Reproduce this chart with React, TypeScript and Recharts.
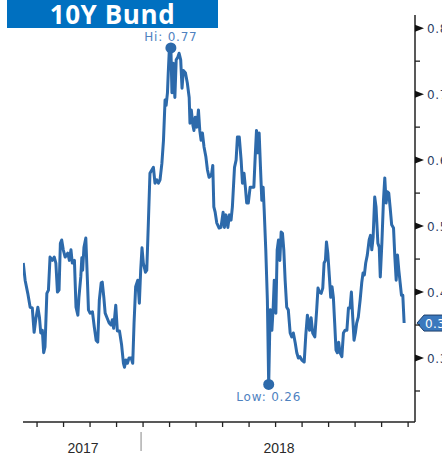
import React from 'react';
import { LineChart, Line, XAxis, YAxis, ReferenceDot, ReferenceLine } from 'recharts';

// time in months relative to Jan 2018 (0 = Jan 2018)
const months = [
  -4.52, -4.45, -4.35, -4.26, -4.18, -4.11, -4.05, -3.97, -3.91, -3.86,
  -3.80, -3.75, -3.70, -3.63, -3.57, -3.51, -3.42, -3.35, -3.29, -3.23,
  -3.17, -3.12, -3.07, -3.01, -2.94, -2.84, -2.78, -2.72, -2.67, -2.59,
  -2.53, -2.46, -2.42, -2.35, -2.31, -2.28, -2.23, -2.16, -2.10, -2.06,
  -2.00, -1.91, -1.84, -1.77, -1.71, -1.65, -1.58, -1.54, -1.48, -1.43,
  -1.36, -1.28, -1.21, -1.16, -1.11, -1.03, -0.97, -0.89, -0.81, -0.74,
  -0.70, -0.65, -0.59, -0.53, -0.45, -0.39, -0.34, -0.28, -0.20, -0.14,
  -0.09, -0.04, 0.01, 0.09, 0.14, 0.20, 0.26, 0.33, 0.39, 0.45,
  0.52, 0.58, 0.64, 0.71, 0.77, 0.83, 0.87, 0.92, 0.95, 0.99,
  1.05, 1.09, 1.14, 1.20, 1.25, 1.31, 1.36, 1.42, 1.47, 1.52,
  1.60, 1.67, 1.74, 1.77, 1.82, 1.88, 1.92, 1.97, 2.03, 2.09,
  2.14, 2.19, 2.24, 2.30, 2.37, 2.43, 2.49, 2.55, 2.59, 2.63,
  2.67, 2.72, 2.78, 2.87, 2.94, 3.02, 3.07, 3.13, 3.20, 3.26,
  3.32, 3.37, 3.45, 3.51, 3.56, 3.63, 3.70, 3.75, 3.81, 3.86,
  3.91, 3.97, 4.04, 4.10, 4.18, 4.23, 4.28, 4.33, 4.38, 4.43,
  4.48, 4.53, 4.57, 4.63, 4.69, 4.74, 4.78, 4.80, 4.86, 4.91,
  4.95, 5.01, 5.06, 5.11, 5.16, 5.21, 5.26, 5.31, 5.36, 5.42,
  5.48, 5.55, 5.61, 5.67, 5.74, 5.80, 5.86, 5.92, 5.99, 6.08,
  6.14, 6.20, 6.28, 6.34, 6.40, 6.48, 6.55, 6.60, 6.65, 6.72,
  6.78, 6.83, 6.88, 6.92, 6.97, 7.03, 7.08, 7.13, 7.18, 7.23,
  7.28, 7.33, 7.38, 7.43, 7.50, 7.56, 7.62, 7.69, 7.75, 7.81,
  7.86, 7.91, 7.96, 8.01, 8.06, 8.12, 8.19, 8.25, 8.30, 8.35,
  8.40, 8.46, 8.53, 8.58, 8.63, 8.68, 8.74, 8.79, 8.86, 8.91,
  8.95, 9.01, 9.07, 9.12, 9.17, 9.22, 9.27, 9.32, 9.38, 9.45,
  9.50, 9.55, 9.60, 9.65, 9.70, 9.75, 9.80, 9.85,
];

const bundYield = [
  0.444, 0.418, 0.398, 0.377, 0.376, 0.339, 0.358, 0.377, 0.362, 0.338,
  0.342, 0.308, 0.317, 0.398, 0.403, 0.453, 0.448, 0.453, 0.444, 0.400,
  0.403, 0.474, 0.479, 0.464, 0.453, 0.459, 0.448, 0.464, 0.444, 0.448,
  0.377, 0.365, 0.392, 0.423, 0.452, 0.433, 0.468, 0.482, 0.418, 0.373,
  0.368, 0.370, 0.347, 0.327, 0.324, 0.388, 0.414, 0.415, 0.392, 0.368,
  0.361, 0.353, 0.350, 0.358, 0.345, 0.380, 0.341, 0.341, 0.320, 0.292,
  0.286, 0.297, 0.292, 0.300, 0.300, 0.292, 0.353, 0.408, 0.418, 0.383,
  0.433, 0.467, 0.444, 0.430, 0.433, 0.505, 0.580, 0.585, 0.589, 0.565,
  0.570, 0.565, 0.570, 0.595, 0.630, 0.691, 0.683, 0.702, 0.732, 0.767,
  0.770, 0.702, 0.747, 0.695, 0.752, 0.756, 0.762, 0.752, 0.709, 0.736,
  0.732, 0.717, 0.695, 0.656, 0.676, 0.653, 0.645, 0.665, 0.650, 0.676,
  0.645, 0.630, 0.641, 0.620, 0.605, 0.585, 0.574, 0.576, 0.580, 0.592,
  0.529, 0.521, 0.505, 0.497, 0.498, 0.521, 0.498, 0.517, 0.498, 0.517,
  0.509, 0.529, 0.589, 0.600, 0.635, 0.635, 0.600, 0.565, 0.580, 0.559,
  0.535, 0.535, 0.559, 0.559, 0.559, 0.605, 0.645, 0.611, 0.641, 0.589,
  0.539, 0.559, 0.524, 0.464, 0.388, 0.260, 0.342, 0.373, 0.342, 0.377,
  0.418, 0.368, 0.464, 0.479, 0.448, 0.491, 0.489, 0.464, 0.418, 0.377,
  0.373, 0.338, 0.332, 0.338, 0.323, 0.308, 0.300, 0.302, 0.297, 0.294,
  0.335, 0.365, 0.342, 0.361, 0.338, 0.332, 0.373, 0.406, 0.400, 0.398,
  0.406, 0.444, 0.448, 0.476, 0.459, 0.423, 0.392, 0.408, 0.392, 0.353,
  0.312, 0.308, 0.324, 0.308, 0.302, 0.338, 0.342, 0.342, 0.376, 0.376,
  0.400, 0.362, 0.327, 0.338, 0.353, 0.362, 0.388, 0.414, 0.429, 0.426,
  0.444, 0.456, 0.479, 0.486, 0.464, 0.483, 0.544, 0.529, 0.474, 0.468,
  0.423, 0.474, 0.539, 0.573, 0.535, 0.552, 0.550, 0.529, 0.502, 0.497,
  0.453, 0.418, 0.456, 0.433, 0.414, 0.395, 0.395, 0.353,
];

const monthTicks = [-4, -3, -2, -1, 0, 1, 2, 3, 4, 5, 6, 7, 8, 9, 10];
const yearLabels = ['2017', '2018'];
const yearBoundary = 0;
const majorYTicks = [0.3, 0.4, 0.5, 0.6, 0.7, 0.8];
const minorYTicks = [0.25, 0.35, 0.45, 0.55, 0.65, 0.75];
const hiPoint = { t: 1.05, v: 0.77, label: 'Hi: 0.77' };
const lowPoint = { t: 4.74, v: 0.26, label: 'Low: 0.26' };
const xDomain: [number, number] = [-4.53, 10.26];
const yDomain: [number, number] = [0.203, 0.82];
const title = '10Y Bund';

const LINE = '#2d6aab';
const LABEL_FONT = '"DejaVu Sans", sans-serif';

const data = months.map((t, i) => ({ t, v: bundYield[i] }));
const lastPoint = data[data.length - 1];
const yearCenters = [(xDomain[0] + yearBoundary) / 2, (yearBoundary + xDomain[1]) / 2];

const XTick = (props: any) => {
  const { x, y, payload } = props;
  const v = payload.value;
  const yi = yearCenters.findIndex((c) => Math.abs(c - v) < 1e-9);
  if (yi >= 0) {
    return (
      <text x={x} y={y + 31} textAnchor="middle" fontSize={14} fontFamily='"Liberation Sans", Arial, sans-serif' fill="#2a2a2a">
        {yearLabels[yi]}
      </text>
    );
  }
  return (
    <g>
      <line x1={x} y1={y} x2={x} y2={y + 5} stroke="#222" strokeWidth={1.3} />
      {Math.abs(v - yearBoundary) < 1e-9 && (
        <line x1={x - 2} y1={y + 10} x2={x - 2} y2={y + 29} stroke="#9a9a9a" strokeWidth={1.2} />
      )}
    </g>
  );
};

const YTick = (props: any) => {
  const { x, y, payload } = props;
  const v = payload.value;
  const major = majorYTicks.some((m) => Math.abs(m - v) < 1e-9);
  if (!major) {
    return <line x1={x} y1={y} x2={x + 5} y2={y} stroke="#222" strokeWidth={1.3} />;
  }
  return (
    <g>
      <polygon points={`${x},${y - 3.5} ${x + 9},${y} ${x},${y + 3.5}`} fill="#111" />
      <text x={x + 12} y={y} dy={4.5} fontSize={12} letterSpacing={0.6} fontFamily={LABEL_FONT} fill="#2b4066">
        {v.toFixed(1)}
      </text>
    </g>
  );
};

const LastTag = (props: any) => {
  const { viewBox } = props;
  const x = viewBox.x + viewBox.width + 2;
  const y = viewBox.y;
  return (
    <g>
      <polygon
        points={`${x},${y} ${x + 7},${y - 8} ${x + 40},${y - 8} ${x + 40},${y + 8} ${x + 7},${y + 8}`}
        fill="#3a78bd"
        stroke="#1e3f6b"
        strokeWidth={1}
      />
      <text x={x + 8} y={y} dy={4.5} fontSize={12} letterSpacing={0.4} fontFamily={LABEL_FONT} fill="#fff">
        {lastPoint.v.toFixed(2)}
      </text>
    </g>
  );
};

export default function App() {
  return (
    <div style={{ position: 'absolute', left: 0, top: 0, width: 442, height: 459, background: '#fff', overflow: 'hidden' }}>
      <LineChart width={442} height={459} data={data} margin={{ top: 15, right: 0, bottom: 0, left: 23 }}>
        <XAxis
          dataKey="t"
          type="number"
          domain={xDomain}
          allowDataOverflow
          ticks={[...monthTicks, ...yearCenters]}
          interval={0}
          tickLine={false}
          tickSize={0}
          tickMargin={0}
          tick={<XTick />}
          axisLine={{ stroke: '#222', strokeWidth: 1.5 }}
          height={37}
        />
        <YAxis
          orientation="right"
          type="number"
          domain={yDomain}
          allowDataOverflow
          ticks={[...majorYTicks, ...minorYTicks]}
          interval={0}
          tickLine={false}
          tickSize={0}
          tickMargin={0}
          tick={<YTick />}
          axisLine={{ stroke: '#222', strokeWidth: 1.5 }}
          width={27}
        />
        <Line
          dataKey="v"
          type="linear"
          stroke={LINE}
          strokeWidth={3}
          strokeLinejoin="round"
          dot={false}
          isAnimationActive={false}
        />
        <ReferenceDot
          x={hiPoint.t}
          y={hiPoint.v}
          r={5.5}
          fill={LINE}
          stroke="none"
          label={{ value: hiPoint.label, position: 'top', offset: 1, fontSize: 12, letterSpacing: 0.8, fontFamily: LABEL_FONT, fill: '#4f82bf' }}
        />
        <ReferenceDot
          x={lowPoint.t}
          y={lowPoint.v}
          r={5.5}
          fill={LINE}
          stroke="none"
          label={{ value: lowPoint.label, position: 'bottom', offset: 3, fontSize: 12, letterSpacing: 0.8, fontFamily: LABEL_FONT, fill: '#4f82bf' }}
        />
        <ReferenceLine y={lastPoint.v} stroke="none" strokeOpacity={0} label={<LastTag />} />
      </LineChart>
      <div
        style={{
          position: 'absolute',
          left: 7,
          top: 0,
          width: 211,
          height: 28,
          background: '#0070c0',
          color: '#fff',
          fontFamily: '"Open Sans", sans-serif',
          fontWeight: 700,
          fontSize: 26,
          lineHeight: '28px',
          textAlign: 'center',
          letterSpacing: 0.6,
        }}
      >
        {title}
      </div>
    </div>
  );
}
